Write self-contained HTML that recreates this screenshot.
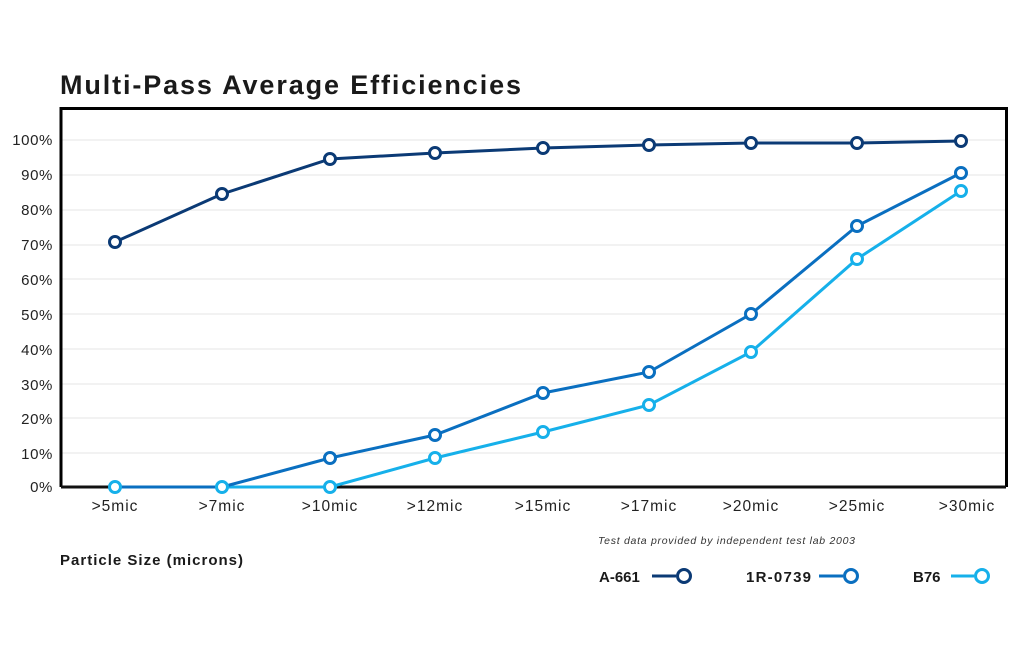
<!DOCTYPE html>
<html><head><meta charset="utf-8"><style>
body{margin:0;background:#fff;}
svg{display:block;font-family:"Liberation Sans",sans-serif;}
</style></head><body>
<svg width="1024" height="666" viewBox="0 0 1024 666">
<text x="60" y="94" font-size="27" font-weight="bold" fill="#1a1a1a" textLength="461" lengthAdjust="spacing">Multi-Pass Average Efficiencies</text>
<g stroke="#e6e6e6" stroke-width="1">
<line x1="62" x2="1006" y1="140" y2="140"/><line x1="62" x2="1006" y1="175" y2="175"/>
<line x1="62" x2="1006" y1="210" y2="210"/><line x1="62" x2="1006" y1="245" y2="245"/>
<line x1="62" x2="1006" y1="279" y2="279"/><line x1="62" x2="1006" y1="314" y2="314"/>
<line x1="62" x2="1006" y1="349" y2="349"/><line x1="62" x2="1006" y1="384" y2="384"/>
<line x1="62" x2="1006" y1="418" y2="418"/><line x1="62" x2="1006" y1="453" y2="453"/>
</g>
<polyline points="61,487 61,108.5 1006.5,108.5 1006.5,487" fill="none" stroke="#000" stroke-width="3"/>
<line x1="61" x2="1006" y1="487" y2="487" stroke="#111" stroke-width="3"/>
<g font-size="15" fill="#222" text-anchor="end" letter-spacing="0.6">
<text x="53" y="145">100%</text><text x="53" y="180">90%</text><text x="53" y="215">80%</text>
<text x="53" y="250">70%</text><text x="53" y="285">60%</text><text x="53" y="320">50%</text>
<text x="53" y="355">40%</text><text x="53" y="390">30%</text><text x="53" y="424">20%</text>
<text x="53" y="459">10%</text><text x="53" y="492">0%</text>
</g>
<g font-size="15.5" fill="#222" text-anchor="middle" letter-spacing="1">
<text x="115" y="511">&gt;5mic</text><text x="222" y="511">&gt;7mic</text><text x="330" y="511">&gt;10mic</text>
<text x="435" y="511">&gt;12mic</text><text x="543" y="511">&gt;15mic</text><text x="649" y="511">&gt;17mic</text>
<text x="751" y="511">&gt;20mic</text><text x="857" y="511">&gt;25mic</text><text x="967" y="511">&gt;30mic</text>
</g>
<text x="60" y="565" font-size="15" font-weight="bold" fill="#1a1a1a" textLength="183" lengthAdjust="spacing">Particle Size (microns)</text>
<text x="598" y="544" font-size="10.5" font-style="italic" fill="#333" textLength="257" lengthAdjust="spacing">Test data provided by independent test lab 2003</text>
<g fill="#fff" stroke-width="3">
<polyline fill="none" stroke="#16b0ea" points="115,487 222,487 330,487 435,458 543,432 649,405 751,352 857,259 961,191"/>
<polyline fill="none" stroke="#0a6fc0" points="115,487 222,487 330,458 435,435 543,393 649,372 751,314 857,226 961,173"/>
<polyline fill="none" stroke="#0b3a75" points="115,242 222,194 330,159 435,153 543,148 649,145 751,143 857,143 961,141"/>
<g stroke="#16b0ea"><circle cx="115" cy="487" r="5.5"/><circle cx="222" cy="487" r="5.5"/><circle cx="330" cy="487" r="5.5"/><circle cx="435" cy="458" r="5.5"/><circle cx="543" cy="432" r="5.5"/><circle cx="649" cy="405" r="5.5"/><circle cx="751" cy="352" r="5.5"/><circle cx="857" cy="259" r="5.5"/><circle cx="961" cy="191" r="5.5"/></g>
<g stroke="#0a6fc0"><circle cx="330" cy="458" r="5.5"/><circle cx="435" cy="435" r="5.5"/><circle cx="543" cy="393" r="5.5"/><circle cx="649" cy="372" r="5.5"/><circle cx="751" cy="314" r="5.5"/><circle cx="857" cy="226" r="5.5"/><circle cx="961" cy="173" r="5.5"/></g>
<g stroke="#0b3a75"><circle cx="115" cy="242" r="5.5"/><circle cx="222" cy="194" r="5.5"/><circle cx="330" cy="159" r="5.5"/><circle cx="435" cy="153" r="5.5"/><circle cx="543" cy="148" r="5.5"/><circle cx="649" cy="145" r="5.5"/><circle cx="751" cy="143" r="5.5"/><circle cx="857" cy="143" r="5.5"/><circle cx="961" cy="141" r="5.5"/></g>
</g>
<g font-size="15" font-weight="bold" fill="#1a1a1a">
<text x="599" y="582">A-661</text><text x="746" y="582" textLength="65" lengthAdjust="spacing">1R-0739</text><text x="913" y="582">B76</text>
</g>
<g fill="#fff" stroke-width="3">
<line x1="652" x2="676" y1="576" y2="576" stroke="#0b3a75"/><circle cx="684" cy="576" r="6.5" stroke="#0b3a75"/>
<line x1="819" x2="843" y1="576" y2="576" stroke="#0a6fc0"/><circle cx="851" cy="576" r="6.5" stroke="#0a6fc0"/>
<line x1="951" x2="974" y1="576" y2="576" stroke="#16b0ea"/><circle cx="982" cy="576" r="6.5" stroke="#16b0ea"/>
</g>
</svg>
</body></html>
